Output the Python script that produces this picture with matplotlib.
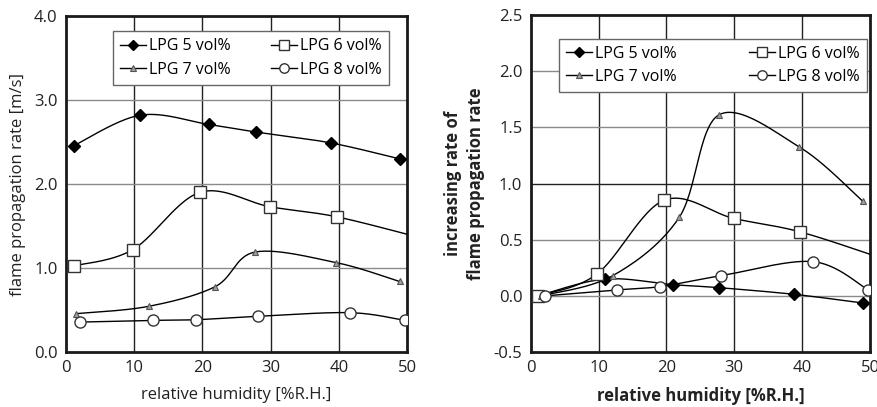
import numpy as np
import matplotlib
matplotlib.use("Agg")
import matplotlib.pyplot as plt
from matplotlib.lines import Line2D

plt.rcParams['font.family'] = ['Open Sans', 'DejaVu Sans']

labels = ["LPG 5 vol%", "LPG 6 vol%", "LPG 7 vol%", "LPG 8 vol%"]

# relative humidity of each measurement [%R.H.]
rh5 = [1.1, 10.9, 20.9, 27.8, 38.8, 48.9]
rh6 = [1.1, 9.8, 19.6, 29.9, 39.7, 52.0]
rh7 = [1.5, 12.1, 21.9, 27.7, 39.6, 48.9]
rh8 = [2.1, 12.7, 19.1, 28.1, 41.6, 49.7]

# flame propagation rate [m/s]
v5 = [2.455, 2.82, 2.71, 2.62, 2.49, 2.30]
v6 = [1.025, 1.22, 1.90, 1.73, 1.61, 1.36]
v7 = [0.457, 0.544, 0.78, 1.19, 1.065, 0.84]
v8 = [0.357, 0.377, 0.385, 0.425, 0.469, 0.377]

# increasing rate relative to the driest condition
r5 = [0.0, 0.15, 0.10, 0.073, 0.014, -0.063]
r6 = [0.0, 0.196, 0.85, 0.69, 0.57, 0.33]
r7 = [0.0, 0.18, 0.70, 1.61, 1.325, 0.845]
r8 = [0.0, 0.053, 0.083, 0.18, 0.305, 0.055]

styles = [
    dict(marker='D', ms=6, mfc='black', mec='black'),
    dict(marker='s', ms=8, mfc='white', mec='#333333', mew=1.0),
    dict(marker='^', ms=5, mfc='#a0a0a0', mec='#555555', mew=0.8),
    dict(marker='o', ms=8, mfc='white', mec='#333333', mew=1.0),
]


def smooth(x, y, n=30):
    # spreadsheet-style smoothed line: cubic Bezier through every point
    p = np.column_stack([x, y]).astype(float)
    ext = np.vstack([p[0], p, p[-1]])
    t = np.linspace(0, 1, n)[:, None]
    out = []
    for i in range(len(p) - 1):
        p0, p3 = ext[i + 1], ext[i + 2]
        c1 = p0 + (ext[i + 2] - ext[i]) / 6
        c2 = p3 - (ext[i + 3] - ext[i + 1]) / 6
        seg = ((1 - t) ** 3) * p0 + 3 * ((1 - t) ** 2) * t * c1 + 3 * (1 - t) * t ** 2 * c2 + t ** 3 * p3
        out.append(seg)
    s = np.vstack(out)
    return s[:, 0], s[:, 1]


def panel(ax, xs, ys, ylim, yticks, ylabel, bold, leg_box, dark_h=()):
    for x, y, st in zip(xs, ys, styles):
        sx, sy = smooth(x, y)
        ax.plot(sx, sy, color='black', lw=1.0, zorder=3)
        ax.plot(x, y, ls='none', zorder=4, **st)
    ax.set_xlim(0, 50)
    ax.set_ylim(*ylim)
    ax.set_xticks(range(0, 51, 10))
    ax.set_yticks(yticks)
    ax.set_yticklabels([f"{v:.1f}" for v in yticks])
    for xv in range(10, 50, 10):
        ax.axvline(xv, color='#222222', lw=1.0, zorder=1)
    for yv in yticks[1:-1]:
        c = '#222222' if yv in dark_h else '#8a8a8a'
        ax.axhline(yv, color=c, lw=1.0, zorder=1)
    for sp in ax.spines.values():
        sp.set_linewidth(2.0)
        sp.set_color('#1a1a1a')
    ax.tick_params(length=0, labelsize=12, pad=6, colors='#222222')
    w = 'bold' if bold else 'normal'
    ax.set_xlabel("relative humidity [%R.H.]", fontsize=12, fontweight=w, labelpad=8, color='#222222')
    ax.set_ylabel(ylabel, fontsize=12, fontweight=w, labelpad=6, color='#222222', linespacing=1.4)
    handles = [Line2D([], [], color='black', lw=1.0, **dict(st, ms=st['ms'] * 0.85)) for st in styles]
    # two columns, filled row by row
    order = [0, 2, 1, 3]
    leg = ax.legend([handles[i] for i in order], [labels[i] for i in order], ncol=2,
                    loc='upper left', bbox_to_anchor=leg_box, borderaxespad=0,
                    mode='expand', fontsize=11.5, handlelength=1.6, handletextpad=0.2,
                    columnspacing=1.0, borderpad=0.45, labelspacing=0.45,
                    fancybox=False, framealpha=1.0, edgecolor='#666666')
    leg.get_frame().set_linewidth(1.0)
    leg.set_zorder(5)


fig = plt.figure(figsize=(8.78, 4.07), dpi=100)
ax1 = fig.add_axes([0.0752, 0.135, 0.3884, 0.8256])
ax2 = fig.add_axes([0.6044, 0.135, 0.3865, 0.828])

panel(ax1, [rh5, rh6, rh7, rh8], [v5, v6, v7, v8], (0, 4), [0.0, 1.0, 2.0, 3.0, 4.0],
      "flame propagation rate [m/s]", False, (0.138, 0.815, 0.809, 0.14))
panel(ax2, [rh5, rh6, rh7, rh8], [r5, r6, r7, r8], (-0.5, 2.5),
      [-0.5, 0.0, 0.5, 1.0, 1.5, 2.0, 2.5],
      "increasing rate of\nflame propagation rate", True, (0.083, 0.75, 0.907, 0.18),
      dark_h=(1.0,))

fig.savefig("out.png", dpi=100)
